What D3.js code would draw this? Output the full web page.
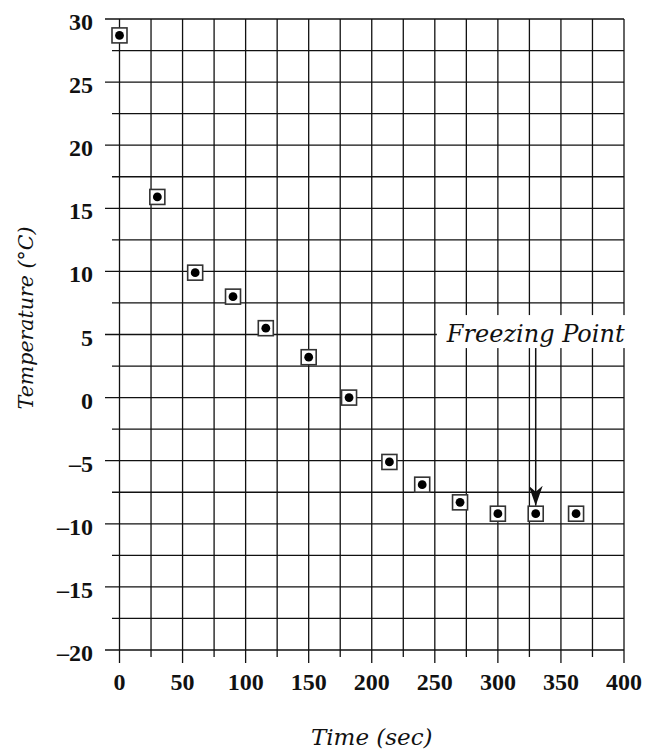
<!DOCTYPE html>
<html>
<head>
<meta charset="utf-8">
<script src="https://cdn.jsdelivr.net/npm/d3@7"></script>
<style>
    body { margin: 0; background: #fff; }
    svg text { font-family: "DejaVu Serif", serif; fill: #111; }
    svg text.tick { font-family: "Liberation Serif", serif; font-weight: bold; font-size: 24px; }
    svg text.title { font-style: italic; }
</style>
</head>
<body>
<div id="chart"></div>
<script>
var times = [0, 30, 60, 90, 116, 150, 182, 214, 240, 270, 300, 330, 362];
var temps = [28.7, 15.9, 9.9, 8.0, 5.5, 3.2, 0.0, -5.1, -6.9, -8.3, -9.2, -9.2, -9.2];
var xTicks = [0, 50, 100, 150, 200, 250, 300, 350, 400];
var yTicks = [30, 25, 20, 15, 10, 5, 0, -5, -10, -15, -20];
var freezeTime = 330, freezeTemp = -9.2, freezeLabelTemp = 4.4;
var freezeLabel = "Freezing Point";

var w = 648, h = 751;
var margin = { top: 19, right: 24, bottom: 101, left: 119.5 },
    width = w - margin.left - margin.right,
    height = h - margin.top - margin.bottom;

var svg = d3.select("#chart")
    .append("svg")
    .attr("width", w)
    .attr("height", h);

var x = d3.scaleLinear().domain([0, 400]).range([0, width]),
    y = d3.scaleLinear().domain([-20, 30]).range([height, 0]);

var g = svg.append("g")
    .attr("transform", "translate(" + margin.left + "," + margin.top + ")");

// grid lines every 25 sec and every 2.5 degrees
var vLines = d3.range(0, 401, 25),
    hLines = d3.range(-20, 30.1, 2.5);

g.selectAll(".vgrid")
    .data(vLines)
    .enter().append("line")
    .attr("class", "vgrid")
    .attr("x1", function (d) { return x(d); })
    .attr("x2", function (d) { return x(d); })
    .attr("y1", 0)
    .attr("y2", function (d) { return height + (d % 50 == 0 ? 13 : 7); })
    .attr("stroke", "#111")
    .attr("stroke-width", 1.3);

g.selectAll(".hgrid")
    .data(hLines)
    .enter().append("line")
    .attr("class", "hgrid")
    .attr("x1", function (d) { return d % 5 == 0 ? -14.5 : -7.5; })
    .attr("x2", width)
    .attr("y1", function (d) { return y(d); })
    .attr("y2", function (d) { return y(d); })
    .attr("stroke", "#111")
    .attr("stroke-width", 1.3);

// tick labels
g.selectAll(".xlab")
    .data(xTicks)
    .enter().append("text")
    .attr("class", "tick")
    .attr("x", function (d) { return x(d); })
    .attr("y", height + 40)
    .attr("text-anchor", "middle")
    .text(function (d) { return d; });

g.selectAll(".ylab")
    .data(yTicks)
    .enter().append("text")
    .attr("class", "tick")
    .attr("x", -26.5)
    .attr("y", function (d) { return y(d) + 11; })
    .attr("text-anchor", "end")
    .text(function (d) { return d < 0 ? "\u2013" + Math.abs(d) : d; });

// freezing point label with white box behind
var fx = x(freezeTime),
    fy = y(freezeLabelTemp);

var label = g.append("text")
    .attr("class", "title")
    .attr("x", fx)
    .attr("y", fy)
    .attr("text-anchor", "middle")
    .style("font-size", "24px")
    .text(freezeLabel);

var bb = label.node().getBBox();
g.insert("rect", "text")
    .attr("x", bb.x - 9)
    .attr("y", fy - 27)
    .attr("width", bb.width + 18)
    .attr("height", 33)
    .attr("fill", "#fff");

// arrow down to the plateau
svg.append("defs").append("marker")
    .attr("id", "arrow")
    .attr("viewBox", "0 0 20 14")
    .attr("refX", 20)
    .attr("refY", 7)
    .attr("markerWidth", 20)
    .attr("markerHeight", 14)
    .attr("markerUnits", "userSpaceOnUse")
    .attr("orient", "auto")
    .append("path")
    .attr("d", "M0,0 L6,7 L0,14 L20,7 Z")
    .attr("fill", "#111");

g.append("line")
    .attr("x1", fx)
    .attr("x2", fx)
    .attr("y1", fy + 6)
    .attr("y2", y(freezeTemp) - 8)
    .attr("stroke", "#111")
    .attr("stroke-width", 1.5)
    .attr("marker-end", "url(#arrow)");

// markers: square with a dot
var pts = g.selectAll(".pt")
    .data(times)
    .enter().append("g")
    .attr("class", "pt")
    .attr("transform", function (d, i) {
        return "translate(" + x(d) + "," + y(temps[i]) + ")";
    });

pts.append("rect")
    .attr("x", -7.5)
    .attr("y", -7.5)
    .attr("width", 15)
    .attr("height", 15)
    .attr("fill", "#fff")
    .attr("stroke", "#333")
    .attr("stroke-width", 1.6);

pts.append("circle")
    .attr("r", 4.4)
    .attr("fill", "#000");

// axis titles
svg.append("text")
    .attr("class", "title")
    .attr("x", margin.left + width / 2)
    .attr("y", 745)
    .attr("text-anchor", "middle")
    .style("font-size", "23px")
    .text("Time (sec)");

svg.append("text")
    .attr("class", "title")
    .attr("transform", "translate(33,318) rotate(-90)")
    .attr("text-anchor", "middle")
    .style("font-size", "20.5px")
    .text("Temperature (\u00B0C)");
</script>
</body>
</html>
